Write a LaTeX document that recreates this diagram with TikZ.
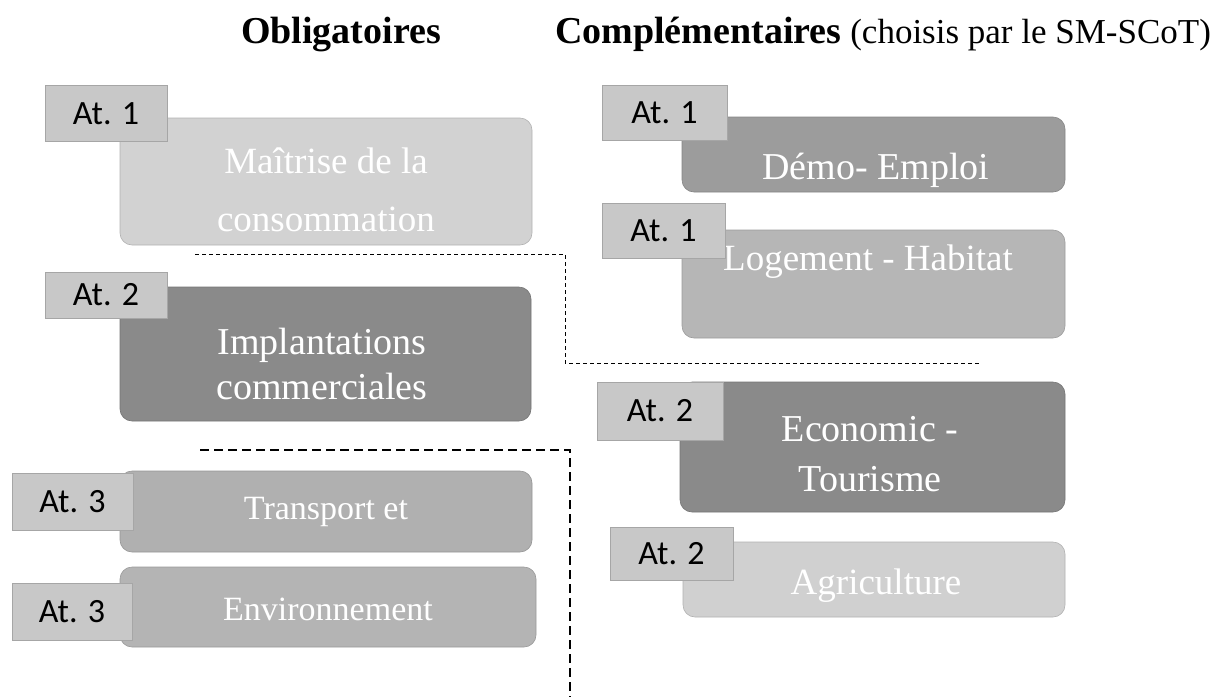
\documentclass[tikz,border=0pt]{standalone}
\usepackage{fontspec}
\setmainfont{Liberation Serif}
\newfontfamily\tagfont{Carlito}
\definecolor{tagfill}{HTML}{C8C8C8}
\definecolor{cmait}{HTML}{D2D2D2}
\definecolor{cimpl}{HTML}{8A8A8A}
\definecolor{ctran}{HTML}{B0B0B0}
\definecolor{cenvi}{HTML}{B4B4B4}
\definecolor{cdemo}{HTML}{9C9C9C}
\definecolor{cloge}{HTML}{B6B6B6}
\definecolor{cecon}{HTML}{8A8A8A}
\definecolor{cagri}{HTML}{D0D0D0}
\begin{document}
\begin{tikzpicture}[x=1pt,y=-1pt,
  tagbox/.style={draw=gray!70, line width=0.8pt, fill=tagfill, inner sep=0pt,
    minimum width=122, minimum height=56, font=\tagfont\fontsize{34}{36}\selectfont, text=black},
  itembox/.style={rounded corners=12pt, draw=#1!85!black, line width=0.6pt, fill=#1, inner sep=0pt},
  itemtext/.style={text=white, align=center, inner sep=0pt},
  sepline/.style={line width=1.2pt, dash pattern=on 9pt off 5pt},
  sepdot/.style={line width=1pt, dash pattern=on 4pt off 3pt}
]
\useasboundingbox (0,0) rectangle (1218,697);

% titles
\node[anchor=base, inner sep=0pt, font=\bfseries\fontsize{38}{40}\selectfont] (h1) at (341,43) {Obligatoires};
\node[anchor=base west, inner sep=0pt, font=\fontsize{35}{40}\selectfont] (h2) at (555,43)
  {{\bfseries\fontsize{38}{40}\selectfont Complémentaires} (choisis par le SM-SCoT)};

% separators
\coordinate (u1) at (195,254);
\coordinate (u2) at (565,254);
\coordinate (u3) at (565,363);
\coordinate (u4) at (980,363);
\draw[sepdot] (u1) -- (u2) -- (u3) -- (u4);
\coordinate (l1) at (200,450);
\coordinate (l2) at (570,450);
\coordinate (l3) at (570,697);
\draw[sepline] (l1) -- (l2) -- (l3);

% left boxes
\node[itembox=cmait, minimum width=412, minimum height=127] (b1) at (326,181.5) {};
\node[itembox=cimpl, minimum width=411, minimum height=134] (b2) at (325.5,354) {};
\node[itembox=ctran, minimum width=412, minimum height=81] (b3) at (326,511.5) {};
\node[itembox=cenvi, minimum width=416, minimum height=80] (b4) at (328,607) {};

% right boxes
\node[itembox=cdemo, minimum width=383, minimum height=75] (r1) at (873.5,154.5) {};
\node[itembox=cloge, minimum width=383, minimum height=108] (r2) at (873.5,284) {};
\node[itembox=cecon, minimum width=385, minimum height=130] (r3) at (872.5,447) {};
\node[itembox=cagri, minimum width=382, minimum height=75] (r4) at (874,579.5) {};

% box texts
\node[itemtext, font=\fontsize{37}{58}\selectfont] (b1t) at (326,190) {Maîtrise de la\\consommation};
\node[itemtext, font=\fontsize{38}{45}\selectfont] (b2t) at (322,364) {Implantations\\commerciales};
\node[itemtext, font=\fontsize{34}{38}\selectfont] (b3t) at (326,512) {Transport et};
\node[itemtext, font=\fontsize{34}{38}\selectfont] (b4t) at (328,609) {Environnement};
\node[itemtext, font=\fontsize{38}{42}\selectfont] (r1t) at (876,170) {Démo- Emploi};
\node[itemtext, font=\fontsize{37}{42}\selectfont] (r2t) at (868,262) {Logement - Habitat};
\node[itemtext, font=\fontsize{38}{50}\selectfont] (r3t) at (870,454) {Economic -\\Tourisme};
\node[itemtext, font=\fontsize{37}{42}\selectfont] (r4t) at (876,586) {Agriculture};

% tags
\node[tagbox] (g1) at (106,113.5) {At. 1};
\node[tagbox, minimum height=46] (g2) at (106,295) {At. 2};
\node[tagbox, minimum width=121, minimum height=57] (g3) at (72.5,501.5) {At. 3};
\node[tagbox, minimum width=120, minimum height=57] (g4) at (72,611.5) {At. 3};
\node[tagbox, minimum width=125, minimum height=55] (q1) at (664.5,112.5) {At. 1};
\node[tagbox, minimum width=123, minimum height=55] (q2) at (663.5,230.5) {At. 1};
\node[tagbox, minimum width=126, minimum height=58] (q3) at (660,411) {At. 2};
\node[tagbox, minimum width=123, minimum height=53] (q4) at (671.5,553.5) {At. 2};
\end{tikzpicture}
\end{document}
